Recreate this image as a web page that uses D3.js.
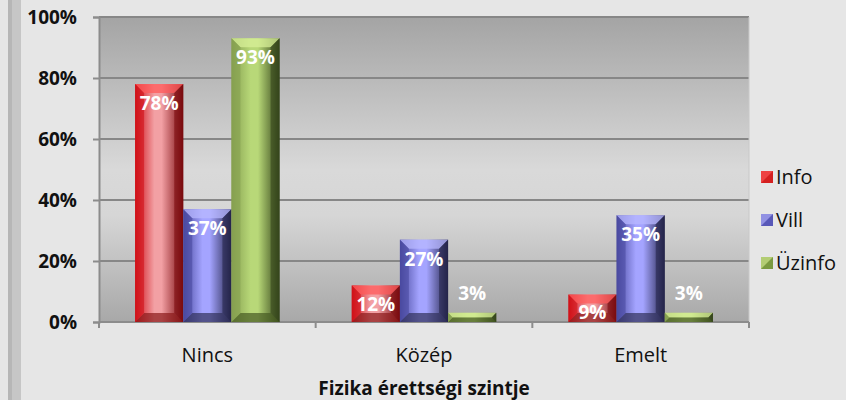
<!DOCTYPE html>
<html><head><meta charset="utf-8">
<script src="https://cdn.jsdelivr.net/npm/d3@7"></script>
<style>body{margin:0;background:#e6e6e6;} svg{display:block;}</style>
</head><body><svg id="c" width="846" height="400"></svg>
<script>
const categories = ["Nincs", "Közép", "Emelt"];
const seriesNames = ["Info", "Vill", "Üzinfo"];
const infoValues = [0.78, 0.12, 0.09];
const villValues = [0.37, 0.27, 0.35];
const uzinfoValues = [0.93, 0.03, 0.03];
const yTicks = [0, 0.2, 0.4, 0.6, 0.8, 1.0];
const xTitle = "Fizika érettségi szintje";

const seriesValues = [infoValues, villValues, uzinfoValues];
const palettes = [
  {l:"#d01018", c:"#f2a0a4", r:"#7a0a0e", top:"#ff5a5a", bot:"#8a1a1a", key:"#d42020"},
  {l:"#4a4aa0", c:"#a4a4ff", r:"#24244a", top:"#b8b8ff", bot:"#30305a", key:"#5858b8"},
  {l:"#86a050", c:"#b8d878", r:"#34441a", top:"#d8f098", bot:"#465a22", key:"#7a9a40"}
];
const FONT = "'Open Sans', sans-serif";

const svg = d3.select("#c");
const W = 846, H = 400;
const plot = {left: 99, right: 749, top: 17, bottom: 322};

svg.append("rect").attr("width", W).attr("height", H).attr("fill", "#e6e6e6");
// left frame strip
svg.append("rect").attr("x", 8).attr("y", 0).attr("width", 13).attr("height", H).attr("fill", "#c6c6c6");
svg.append("rect").attr("x", 8).attr("y", 0).attr("width", 4).attr("height", H).attr("fill", "#b6b6b6");

const defs = svg.append("defs");
const bg = defs.append("linearGradient").attr("id", "bg").attr("x1", 0).attr("y1", 0).attr("x2", 0).attr("y2", 1);
bg.append("stop").attr("offset", "0%").attr("stop-color", "#a4a4a4");
bg.append("stop").attr("offset", "50%").attr("stop-color", "#d9d9d9");
bg.append("stop").attr("offset", "65%").attr("stop-color", "#d6d6d6");
bg.append("stop").attr("offset", "100%").attr("stop-color", "#a8a8a8");

palettes.forEach((p, i) => {
  const g = defs.append("linearGradient").attr("id", "bar" + i).attr("x1", 0).attr("y1", 0).attr("x2", 1).attr("y2", 0);
  g.append("stop").attr("offset", "0%").attr("stop-color", p.l);
  g.append("stop").attr("offset", "40%").attr("stop-color", p.c);
  g.append("stop").attr("offset", "55%").attr("stop-color", p.c);
  g.append("stop").attr("offset", "100%").attr("stop-color", p.r);
});

const x0 = d3.scaleBand().domain(categories).range([plot.left, plot.right]).paddingInner(0.333).paddingOuter(0.1665);
const x1 = d3.scaleBand().domain(seriesNames).range([0, x0.bandwidth()]);
const y = d3.scaleLinear().domain([0, 1]).range([plot.bottom, plot.top]);

svg.append("rect").attr("x", plot.left).attr("y", plot.top).attr("width", plot.right - plot.left)
  .attr("height", plot.bottom - plot.top).attr("fill", "url(#bg)");

// gridlines
svg.append("g").selectAll("line").data(yTicks.filter(d => d > 0)).join("line")
  .attr("x1", plot.left).attr("x2", plot.right)
  .attr("y1", d => y(d)).attr("y2", d => y(d))
  .attr("stroke", "#878787").attr("stroke-width", 2);
svg.append("line").attr("x1", plot.right).attr("x2", plot.right).attr("y1", plot.top).attr("y2", plot.bottom)
  .attr("stroke", "#c8c8c8").attr("stroke-width", 1);

// y axis
const yAxis = svg.append("g").attr("transform", `translate(${plot.left},0)`)
  .call(d3.axisLeft(y).tickValues(yTicks).tickFormat(d3.format(".0%")).tickSize(6).tickPadding(16));
yAxis.select(".domain").attr("stroke", "#8c8c8c").attr("stroke-width", 2);
yAxis.selectAll(".tick line").attr("stroke", "#8c8c8c").attr("stroke-width", 2);
yAxis.selectAll("text").attr("font-family", FONT).attr("font-weight", "bold")
  .attr("font-size", 19).attr("fill", "#111");

// x axis
const xAxisG = svg.append("g").attr("transform", `translate(0,${plot.bottom})`);
xAxisG.append("line").attr("x1", plot.left).attr("x2", plot.right).attr("y1", 0).attr("y2", 0)
  .attr("stroke", "#8c8c8c").attr("stroke-width", 2);
const divs = categories.map(c => x0(c) - x0.step() * x0.paddingInner() / 2).concat([plot.right]);
divs[0] = plot.left;
xAxisG.selectAll("line.t").data(divs).join("line").attr("class", "t")
  .attr("x1", d => d).attr("x2", d => d).attr("y1", 0).attr("y2", 6)
  .attr("stroke", "#8c8c8c").attr("stroke-width", 2);
xAxisG.selectAll("text.cat").data(categories).join("text").attr("class", "cat")
  .attr("x", d => x0(d) + x0.bandwidth() / 2).attr("y", 40)
  .attr("text-anchor", "middle").attr("font-family", FONT)
  .attr("font-size", 20).attr("fill", "#111").text(d => d);

svg.append("text").attr("x", (plot.left + plot.right) / 2).attr("y", 395).attr("text-anchor", "middle")
  .attr("font-family", FONT).attr("font-weight", "bold").attr("font-size", 19)
  .attr("fill", "#111").text(xTitle);

// bars
const data = [];
categories.forEach((c, ci) => seriesNames.forEach((s, si) => data.push({c, s, si, v: seriesValues[si][ci]})));

const bars = svg.append("g").selectAll("g").data(data).join("g");
bars.each(function(d) {
  const g = d3.select(this);
  const bx = x0(d.c) + x1(d.s), bw = x1.bandwidth();
  const by = y(d.v), bh = plot.bottom - by;
  const p = palettes[d.si];
  const b = Math.min(9, bh / 2, bw / 2);
  g.append("rect").attr("x", bx).attr("y", by).attr("width", bw).attr("height", bh).attr("fill", `url(#bar${d.si})`);
  g.append("path").attr("d", `M${bx},${by}L${bx+bw},${by}L${bx+bw-b},${by+b}L${bx+b},${by+b}Z`)
    .attr("fill", p.top).attr("opacity", 0.75);
  g.append("path").attr("d", `M${bx},${by+bh}L${bx+bw},${by+bh}L${bx+bw-b},${by+bh-b}L${bx+b},${by+bh-b}Z`)
    .attr("fill", p.bot).attr("opacity", 0.7);
  g.append("path").attr("d", `M${bx},${by}L${bx+b},${by+b}L${bx+b},${by+bh-b}L${bx},${by+bh}Z`)
    .attr("fill", p.l).attr("opacity", 0.6);
  g.append("path").attr("d", `M${bx+bw},${by}L${bx+bw-b},${by+b}L${bx+bw-b},${by+bh-b}L${bx+bw},${by+bh}Z`)
    .attr("fill", p.r).attr("opacity", 0.6);
  const small = bh < 20;
  let ty = small ? by - 13 : by + 26;
  if (!small && ty > plot.bottom - 3) ty = plot.bottom - 3;
  g.append("text").attr("x", bx + bw / 2).attr("y", ty).attr("text-anchor", "middle")
    .attr("font-family", FONT).attr("font-weight", "bold").attr("font-size", 19)
    .attr("fill", "#fff").text(d3.format(".0%")(d.v));
});

// legend
const leg = svg.append("g").selectAll("g").data(seriesNames).join("g")
  .attr("transform", (d, i) => `translate(761,${177 + i * 43})`);
leg.append("rect").attr("x", 0).attr("y", -6).attr("width", 12).attr("height", 12)
  .attr("fill", (d, i) => palettes[i].key);
leg.append("path").attr("d", "M0,-6L12,-6L0,6Z").attr("fill", (d, i) => palettes[i].top).attr("opacity", 0.6);
leg.append("text").attr("x", 15).attr("y", 7).attr("font-family", FONT)
  .attr("font-size", 20).attr("fill", "#111").text(d => d);
</script></body></html>
